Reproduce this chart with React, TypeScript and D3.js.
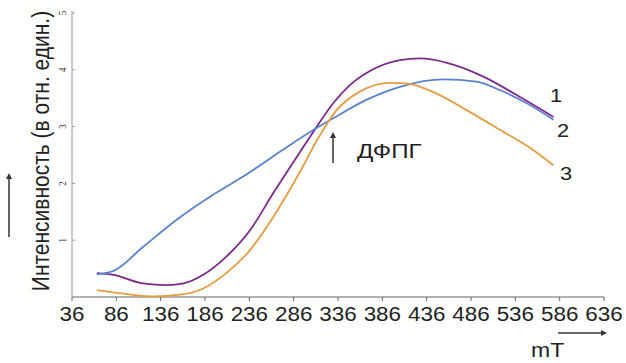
import { useEffect, useRef } from "react"
import * as d3 from "d3"

const xTicks = [36, 86, 136, 186, 236, 286, 336, 386, 436, 486, 536, 586, 636]
const yTicks = [1, 2, 3, 4, 5]

const s1x = [64, 83, 116, 143, 162, 184, 210, 237, 263, 293, 310, 331, 350, 372, 406, 428, 462, 500, 537, 579]
const s1y = [0.42, 0.39, 0.24, 0.21, 0.24, 0.39, 0.71, 1.18, 1.83, 2.55, 2.95, 3.42, 3.74, 3.98, 4.17, 4.2, 4.11, 3.88, 3.56, 3.17]

const s2x = [64, 83, 116, 154, 192, 229, 271, 293, 331, 368, 406, 455, 492, 519, 549, 579]
const s2y = [0.4, 0.46, 0.88, 1.36, 1.77, 2.12, 2.56, 2.79, 3.15, 3.47, 3.7, 3.83, 3.79, 3.64, 3.41, 3.12]

const s3x = [64, 98, 128, 158, 184, 210, 237, 263, 293, 312, 334, 361, 395, 413, 443, 481, 519, 556, 579]
const s3y = [0.12, 0.05, 0.01, 0.04, 0.15, 0.42, 0.83, 1.41, 2.2, 2.75, 3.28, 3.62, 3.77, 3.76, 3.61, 3.29, 2.94, 2.59, 2.32]

const series = [
  { xs: s1x, ys: s1y, color: "#7d2a8c", label: "1" },
  { xs: s2x, ys: s2y, color: "#5a82d2", label: "2" },
  { xs: s3x, ys: s3y, color: "#e69c40", label: "3" },
]

const SX = 1.15
const FONT = "'Liberation Sans', Arial, sans-serif"

export default function App() {
  const ref = useRef<SVGSVGElement>(null)
  useEffect(() => {
    if (!ref.current) return
    const svg = d3.select(ref.current)
    svg.selectAll("*").remove()
    const x = d3.scaleLinear().domain([36, 636]).range([72, 604])
    const y = d3.scaleLinear().domain([0, 5]).range([297, 13])
    const ink = "#222"

    // axes
    svg.append("line").attr("x1", x(36)).attr("x2", x(636)).attr("y1", y(0)).attr("y2", y(0))
      .attr("stroke", "#666").attr("stroke-width", 1.2)
    svg.append("line").attr("x1", x(36)).attr("x2", x(36)).attr("y1", y(0)).attr("y2", y(5) - 2)
      .attr("stroke", "#999").attr("stroke-width", 1)
    svg.selectAll(".xt").data(xTicks).join("line").attr("class", "xt")
      .attr("x1", d => x(d)).attr("x2", d => x(d)).attr("y1", y(0)).attr("y2", y(0) + 4)
      .attr("stroke", "#666")
    svg.selectAll(".xl").data(xTicks).join("text").attr("class", "xl")
      .attr("transform", d => `translate(${x(d)},321) scale(${SX},1)`)
      .attr("text-anchor", "middle").style("font-family", FONT).style("font-size", "19.5px")
      .style("fill", ink).text(d => d)
    svg.selectAll(".yt").data(yTicks).join("line").attr("class", "yt")
      .attr("x1", x(36)).attr("x2", x(36) + 3).attr("y1", d => y(d)).attr("y2", d => y(d))
      .attr("stroke", "#999")
    svg.selectAll(".yl").data(yTicks).join("text").attr("class", "yl")
      .attr("transform", d => `translate(62,${y(d)}) scale(${SX},1) rotate(-90)`)
      .attr("text-anchor", "middle").attr("dominant-baseline", "central")
      .style("font-family", "'Liberation Serif', serif").style("font-size", "9px")
      .style("fill", "#333").text(d => d)

    // axis titles
    svg.append("text").attr("transform", `translate(41,151) scale(${SX},1) rotate(-90)`)
      .attr("text-anchor", "middle").attr("dominant-baseline", "central")
      .style("font-family", FONT).style("font-size", "21px").style("fill", ink)
      .text("Интенсивность (в отн. един.)")
    svg.append("text").attr("transform", `translate(531,357) scale(${SX},1)`)
      .style("font-family", FONT).style("font-size", "20px").style("fill", ink).text("mT")

    const arrow = (x1: number, y1: number, x2: number, y2: number, w: number) => {
      const a = Math.atan2(y2 - y1, x2 - x1), L = 6, h = 3
      svg.append("line").attr("x1", x1).attr("y1", y1).attr("x2", x2 - Math.cos(a) * 3).attr("y2", y2 - Math.sin(a) * 3)
        .attr("stroke", "#333").attr("stroke-width", w)
      const p = [
        [x2, y2],
        [x2 - L * Math.cos(a) - h * Math.sin(a), y2 - L * Math.sin(a) + h * Math.cos(a)],
        [x2 - L * Math.cos(a) + h * Math.sin(a), y2 - L * Math.sin(a) - h * Math.cos(a)],
      ]
      svg.append("polygon").attr("points", p.map(q => q.join(",")).join(" ")).attr("fill", "#333")
    }
    arrow(9, 237, 9, 173, 1.5)
    arrow(558, 333, 607, 333, 1.5)
    arrow(333, 163, 333, 132, 1.5)

    svg.append("text").attr("transform", `translate(357,158) scale(${SX},1)`)
      .style("font-family", FONT).style("font-size", "21px").style("fill", ink).text("ДФПГ")

    // curves
    const line = d3.line<[number, number]>().x(d => x(d[0])).y(d => y(d[1])).curve(d3.curveMonotoneX)
    series.forEach(s => {
      const pts = s.xs.map((v, i) => [v, s.ys[i]] as [number, number])
      svg.append("path").attr("d", line(pts)!).attr("fill", "none")
        .attr("stroke", s.color).attr("stroke-width", 1.8).attr("stroke-linejoin", "round")
    })

    const lblPos = [[550, 102], [557, 137], [560, 180]]
    series.forEach((s, i) => {
      svg.append("text").attr("transform", `translate(${lblPos[i][0]},${lblPos[i][1]}) scale(${SX},1)`)
        .style("font-family", FONT).style("font-size", "19px").style("fill", ink).text(s.label)
    })
  }, [])
  return <svg ref={ref} width={626} height={363} style={{ position: "absolute", left: 0, top: 0, background: "#fff", display: "block" }} />
}
